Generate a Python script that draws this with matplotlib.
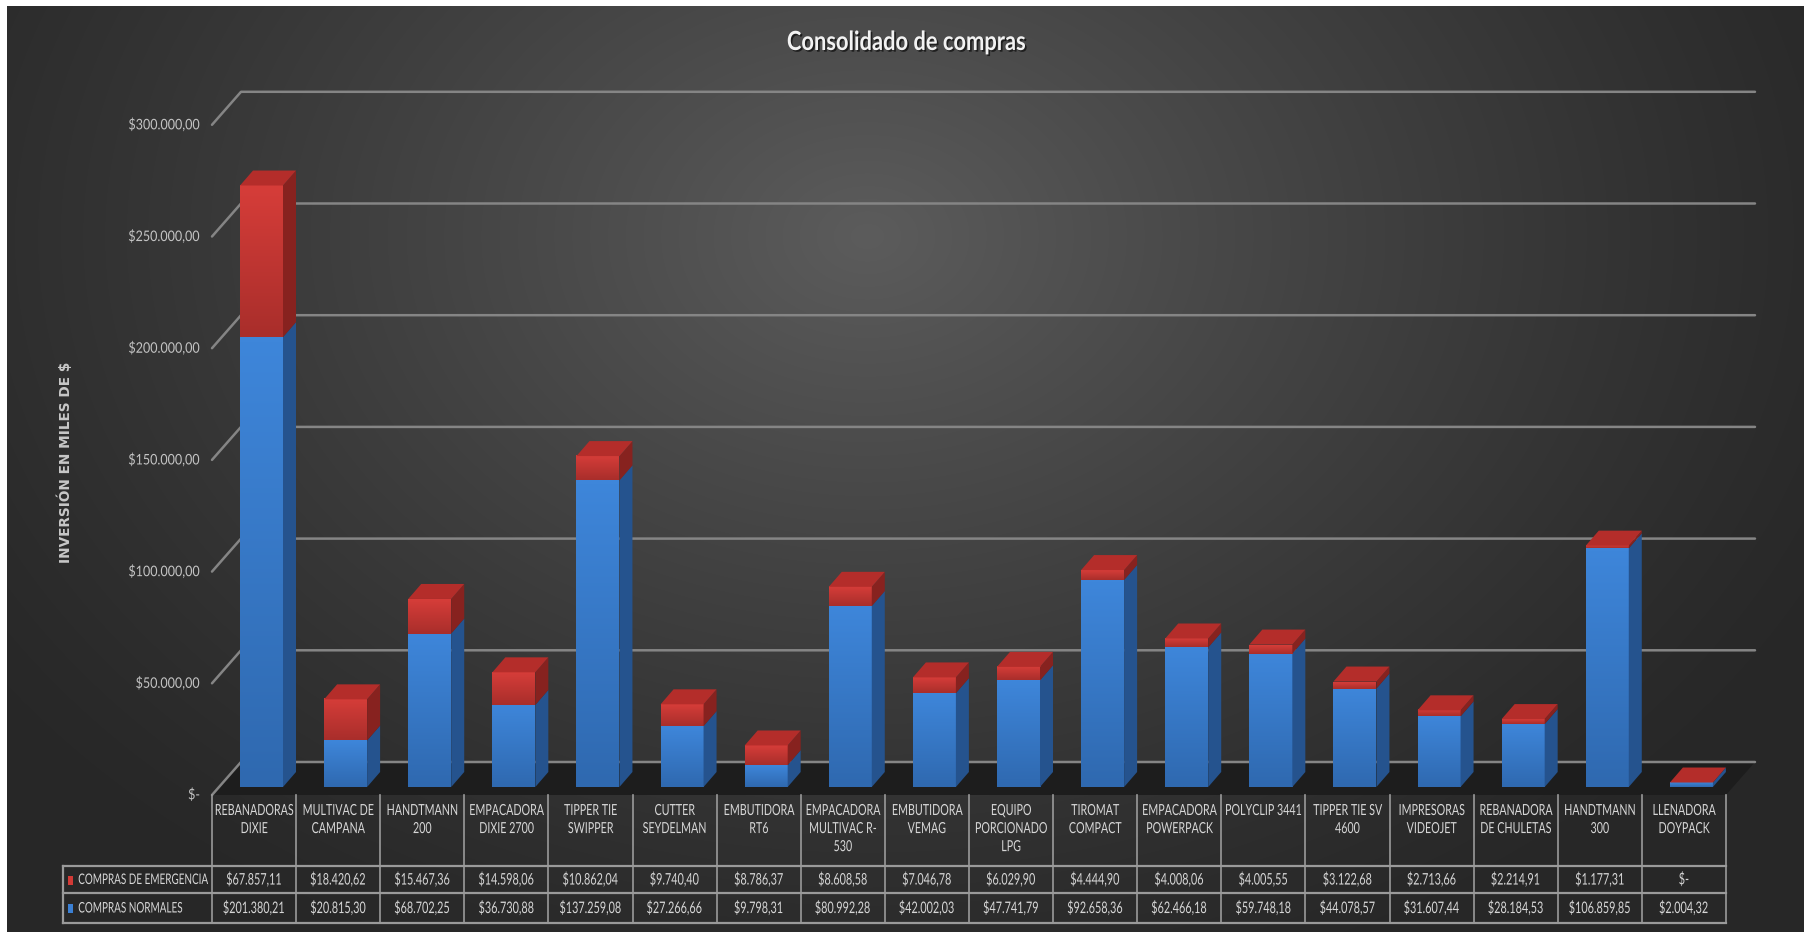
import matplotlib
matplotlib.use('Agg')
import matplotlib.pyplot as plt
import matplotlib.patheffects as pe
from matplotlib.patches import Polygon, Rectangle
from matplotlib.colors import LinearSegmentedColormap
from matplotlib.transforms import Affine2D
import numpy as np

# datos
categorias = ['REBANADORAS\nDIXIE', 'MULTIVAC DE\nCAMPANA', 'HANDTMANN\n200', 'EMPACADORA\nDIXIE 2700',
              'TIPPER TIE\nSWIPPER', 'CUTTER\nSEYDELMAN', 'EMBUTIDORA\nRT6', 'EMPACADORA\nMULTIVAC R-\n530',
              'EMBUTIDORA\nVEMAG', 'EQUIPO\nPORCIONADO\nLPG', 'TIROMAT\nCOMPACT', 'EMPACADORA\nPOWERPACK',
              'POLYCLIP 3441', 'TIPPER TIE SV\n4600', 'IMPRESORAS\nVIDEOJET', 'REBANADORA\nDE CHULETAS',
              'HANDTMANN\n300', 'LLENADORA\nDOYPACK']
emergencia = [67857.11, 18420.62, 15467.36, 14598.06, 10862.04, 9740.40, 8786.37, 8608.58, 7046.78,
              6029.90, 4444.90, 4008.06, 4005.55, 3122.68, 2713.66, 2214.91, 1177.31, 0]
normales = [201380.21, 20815.30, 68702.25, 36730.88, 137259.08, 27266.66, 9798.31, 80992.28, 42002.03,
            47741.79, 92658.36, 62466.18, 59748.18, 44078.57, 31607.44, 28184.53, 106859.85, 2004.32]
series = ['COMPRAS DE EMERGENCIA', 'COMPRAS NORMALES']
ticks = [0, 50000, 100000, 150000, 200000, 250000, 300000]

FONT = ['Lato', 'DejaVu Sans']
TXT = '#d6d6d6'
GRID = '#858585'


class Squeeze(pe.AbstractPathEffect):
    # dibuja el texto angostado horizontalmente (letra condensada)
    def __init__(self, sx=0.8, anchor='center', offset=(0, 0), color=None, alpha=None):
        super().__init__(offset)
        self.sx, self.anchor, self.color, self.alpha = sx, anchor, color, alpha

    def draw_path(self, renderer, gc, tpath, affine, rgbFace=None):
        ext = tpath.get_extents()
        cx = {'center': (ext.x0 + ext.x1) / 2, 'left': ext.x0, 'right': ext.x1}[self.anchor]
        t = Affine2D().translate(-cx, 0).scale(self.sx, 1).translate(cx, 0) + affine \
            + self._offset_transform(renderer)
        gc0 = renderer.new_gc()
        gc0.copy_properties(gc)
        face = rgbFace
        if self.color is not None:
            face = matplotlib.colors.to_rgba(self.color)
        if self.alpha is not None:
            gc0.set_alpha(self.alpha)
        renderer.draw_path(gc0, tpath, t, face)
        gc0.restore()


def sq(sx, anchor='center'):
    return [Squeeze(sx, anchor)]


def fmt(v):
    if v == 0:
        return '$-'
    s = f'{v:,.2f}'.replace(',', 'X').replace('.', ',').replace('X', '.')
    return '$' + s


W, H = 1804, 932
fig = plt.figure(figsize=(W / 100, H / 100), dpi=100, facecolor='white')

# fondo degradado
bg = fig.add_axes([7 / W, 0, 1 - 7 / W, (H - 6) / H])
yy, xx = np.mgrid[0:926, 0:1797]
r = np.sqrt(((xx - 860) / 1050) ** 2 + ((yy - 230) / 780) ** 2)
v = np.clip(1 - r, 0, 1)
c = (40 + 52 * v ** 1.2) / 255
bg.imshow(np.dstack([c, c, c]), aspect='auto')
bg.axis('off')

# ejes principales (plano de las barras)
COLW = 1514 / 18
PPU = 111.7 / 50000
ymax = 340000
ax = fig.add_axes([212 / W, (H - 787) / H, 1514 / W, ymax * PPU / H])
ax.set_xlim(-0.5, 17.5)
ax.set_ylim(0, ymax)
ax.axis('off')


def dx(px):
    return px / COLW


def dy(px):
    return px / PPU


n = len(categorias)
# piso
floor = Polygon([(-0.5, -dy(8)), (n - 0.5, -dy(8)), (n - 0.5 + dx(29), dy(25)), (-0.5 + dx(29), dy(25))],
                closed=True, facecolor='#1d1d1d', edgecolor='none', clip_on=False, zorder=1)
ax.add_patch(floor)

# lineas de division
for t in ticks:
    ax.plot([-0.5, -0.5 + dx(29), n - 0.5 + dx(29)], [t - dy(8), t + dy(25), t + dy(25)],
            color=GRID, lw=1.8, clip_on=False, zorder=2, solid_capstyle='round')
    ax.text(-0.5 - dx(12), t - dy(8), fmt(t), ha='right', va='center', fontsize=10.5,
            color='#c4c4c4', family=FONT, path_effects=sq(0.86, 'right'))

azul = LinearSegmentedColormap.from_list('azul', ['#2f69b0', '#3e86da'])
rojo = LinearSegmentedColormap.from_list('rojo', ['#a92e2b', '#d63d39'])
grad = np.linspace(0, 1, 64).reshape(-1, 1)[::-1]

bw, ddx, ddy = dx(43), dx(13), dy(15)
for i in range(n):
    x0 = i - 0.5 + dx(28)
    segs = [(0, normales[i], azul, '#25538e', None),
            (normales[i], normales[i] + emergencia[i], rojo, '#87221f', '#b42d2a')]
    for b, t, cmap, side, top in segs:
        if t > b:
            ax.imshow(grad, cmap=cmap, extent=[x0, x0 + bw, b, t], aspect='auto', zorder=3,
                      interpolation='bilinear')
            ax.add_patch(Polygon([(x0 + bw, b), (x0 + bw + ddx, b + ddy), (x0 + bw + ddx, t + ddy),
                                  (x0 + bw, t)], closed=True, facecolor=side, edgecolor='none', zorder=3))
        if top:
            ax.add_patch(Polygon([(x0, t), (x0 + bw, t), (x0 + bw + ddx, t + ddy), (x0 + ddx, t + ddy)],
                                 closed=True, facecolor=top, edgecolor='none', zorder=4))
ax.set_xlim(-0.5, 17.5)
ax.set_ylim(0, ymax)

# titulo y eje
fig.text(906 / W, 1 - 42 / H, 'Consolidado de compras', ha='center', va='center', fontsize=19,
         fontweight='bold', color='#f2f2f2', family=FONT,
         path_effects=[Squeeze(0.83, offset=(1.2, -1.2), color='black', alpha=0.6), Squeeze(0.83)])
fig.text(65 / W, 1 - 462 / H, 'INVERSIÓN EN MILES DE $', rotation=90, ha='center', va='center',
         fontsize=9.8, fontweight='bold', color='#c8c8c8', family='DejaVu Sans')

# tabla de datos
tab = fig.add_axes([212 / W, (H - 923) / H, 1514 / W, 128 / H])
tab.set_xlim(-0.5, 17.5)
tab.set_ylim(128, 0)
tab.axis('off')
xl = -0.5 - dx(149)
LC = '#9a9a9a'
for k in range(n + 1):
    tab.plot([k - 0.5, k - 0.5], [0, 128], color=LC, lw=1.2, clip_on=False)
for yv in [71, 98, 128]:
    tab.plot([xl, n - 0.5], [yv, yv], color=LC, lw=1.6, clip_on=False)
tab.plot([xl, xl], [71, 128], color=LC, lw=1.6, clip_on=False)

for i, cat in enumerate(categorias):
    tab.text(i, 9, cat, ha='center', va='top', fontsize=11, linespacing=1.37, color=TXT, family=FONT,
             path_effects=sq(0.70))
    tab.text(i, 85, fmt(emergencia[i]), ha='center', va='center', fontsize=11.5, color=TXT, family=FONT,
             path_effects=sq(0.68))
    tab.text(i, 113.5, fmt(normales[i]), ha='center', va='center', fontsize=11.5, color=TXT, family=FONT,
             path_effects=sq(0.68))

for (yc, col, name) in [(85, '#d33a36', series[0]), (113.5, '#3b80d4', series[1])]:
    tab.add_patch(Rectangle((xl + dx(5), yc - 4.5), dx(5), 9, facecolor=col, edgecolor='none', clip_on=False))
    tab.text(xl + dx(15), yc, name, ha='left', va='center', fontsize=10.5, color=TXT, family=FONT,
             path_effects=sq(0.68, 'left'))

fig.savefig('out.png', dpi=100, facecolor='white')
